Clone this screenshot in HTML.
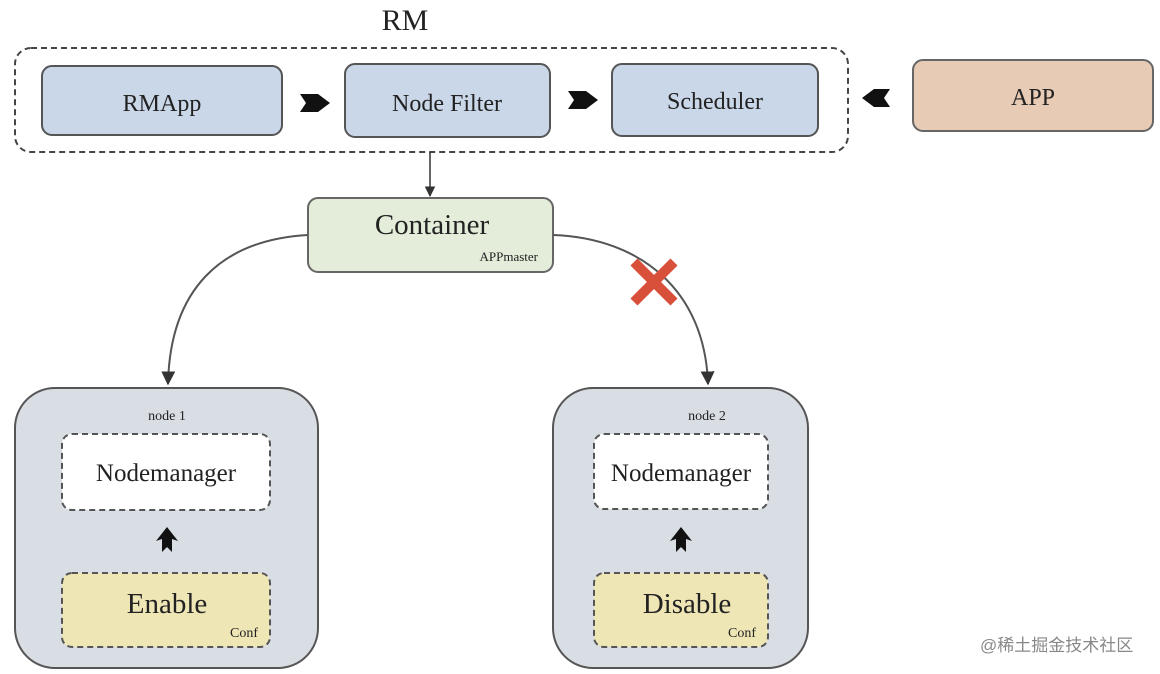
<!DOCTYPE html>
<html><head><meta charset="utf-8"><style>
html,body{margin:0;padding:0;background:#fff;}
svg{display:block;}
text{font-family:"Liberation Serif",serif;fill:#222;}
</style></head><body>
<svg width="1160" height="674" viewBox="0 0 1160 674" xmlns="http://www.w3.org/2000/svg">
<defs>
<marker id="ah" viewBox="0 0 10 10" refX="9" refY="5" markerWidth="7" markerHeight="7" orient="auto"><path d="M0,0 L10,5 L0,10 z" fill="#333"/></marker>
</defs>
<text x="405" y="30" font-size="30" text-anchor="middle">RM</text>
<rect x="15" y="48" width="833" height="104" rx="16" fill="none" stroke="#444" stroke-width="2" stroke-dasharray="6,4"/>
<rect x="42" y="66" width="240" height="69" rx="10" fill="#cad7e8" stroke="#555" stroke-width="2"/>
<text x="162" y="111" font-size="24" text-anchor="middle">RMApp</text>
<rect x="345" y="64" width="205" height="73" rx="10" fill="#cad7e8" stroke="#555" stroke-width="2"/>
<text x="447" y="111" font-size="24" text-anchor="middle">Node Filter</text>
<rect x="612" y="64" width="206" height="72" rx="10" fill="#cad7e8" stroke="#555" stroke-width="2"/>
<text x="715" y="109" font-size="24" text-anchor="middle">Scheduler</text>
<rect x="913" y="60" width="240" height="71" rx="10" fill="#e8cbb4" stroke="#666" stroke-width="2"/>
<text x="1033" y="105" font-size="24" text-anchor="middle">APP</text>
<path d="M300,94 L318,94 L330,103 L318,112 L300,112 L306,103 z" fill="#111"/>
<path d="M568,91 L586,91 L598,100 L586,109 L568,109 L574,100 z" fill="#111"/>
<path d="M890,89 L874,89 L862,98 L874,107 L890,107 L884,98 z" fill="#111"/>
<line x1="430" y1="152" x2="430" y2="196" stroke="#333" stroke-width="1.5" marker-end="url(#ah)"/>
<rect x="308" y="198" width="245" height="74" rx="10" fill="#e3edd9" stroke="#666" stroke-width="2"/>
<text x="432" y="234" font-size="29" text-anchor="middle">Container</text>
<text x="538" y="261" font-size="13" text-anchor="end">APPmaster</text>
<path d="M308,235 C220,240 170,290 168,384" fill="none" stroke="#555" stroke-width="2" marker-end="url(#ah)"/>
<path d="M553,235 C640,238 705,290 708,384" fill="none" stroke="#555" stroke-width="2" marker-end="url(#ah)"/>
<g stroke="#d9503a" stroke-width="10" stroke-linecap="butt"><line x1="634" y1="262" x2="674" y2="302"/><line x1="674" y1="262" x2="634" y2="302"/></g>
<rect x="15" y="388" width="303" height="280" rx="40" fill="#d9dde4" stroke="#555" stroke-width="2"/>
<text x="167" y="420" font-size="14" text-anchor="middle">node 1</text>
<rect x="62" y="434" width="208" height="76" rx="10" fill="#fff" stroke="#555" stroke-width="2" stroke-dasharray="6,4"/>
<text x="166" y="481" font-size="25" text-anchor="middle">Nodemanager</text>
<path d="M167,527 L178,541 L172,539 L172,552 L167,547 L162,552 L162,539 L156,541 z" fill="#111"/>
<rect x="62" y="573" width="208" height="74" rx="10" fill="#efe6b6" stroke="#555" stroke-width="2" stroke-dasharray="6,4"/>
<text x="167" y="613" font-size="29" text-anchor="middle">Enable</text>
<text x="258" y="637" font-size="14" text-anchor="end">Conf</text>
<rect x="553" y="388" width="255" height="280" rx="40" fill="#d9dde4" stroke="#555" stroke-width="2"/>
<text x="707" y="420" font-size="14" text-anchor="middle">node 2</text>
<rect x="594" y="434" width="174" height="75" rx="10" fill="#fff" stroke="#555" stroke-width="2" stroke-dasharray="6,4"/>
<text x="681" y="481" font-size="25" text-anchor="middle">Nodemanager</text>
<path d="M681,527 L692,541 L686,539 L686,552 L681,547 L676,552 L676,539 L670,541 z" fill="#111"/>
<rect x="594" y="573" width="174" height="74" rx="10" fill="#efe6b6" stroke="#555" stroke-width="2" stroke-dasharray="6,4"/>
<text x="687" y="613" font-size="29" text-anchor="middle">Disable</text>
<text x="756" y="637" font-size="14" text-anchor="end">Conf</text>
<text x="980" y="651" font-size="17" style="font-family:'Liberation Sans','Noto Sans CJK SC',sans-serif;fill:#888">@稀土掘金技术社区</text>
</svg>
</body></html>
